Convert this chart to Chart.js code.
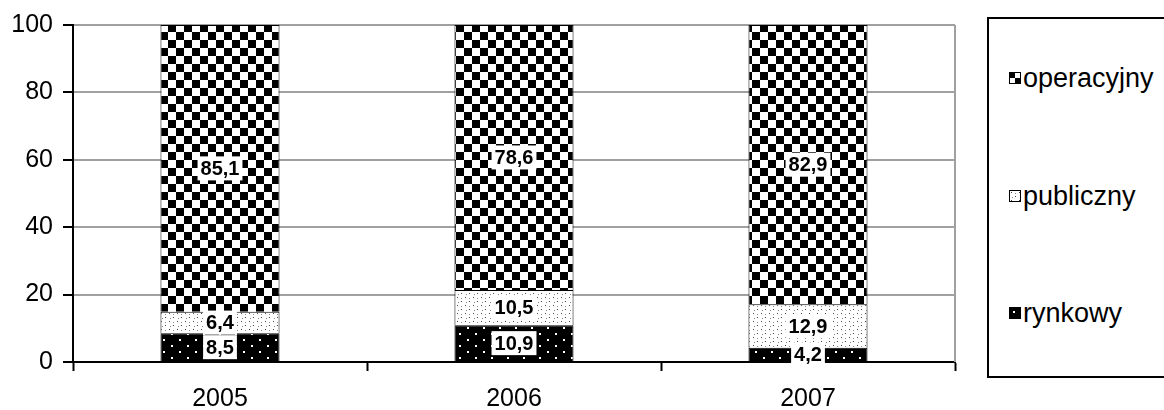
<!DOCTYPE html>
<html>
<head>
<meta charset="utf-8">
<script src="https://cdn.jsdelivr.net/npm/chart.js@4/dist/chart.umd.min.js"></script>
<style>
    body { margin: 0; background: #fff; width: 1164px; height: 410px; overflow: hidden; font-family: "Liberation Sans", Arial, sans-serif; }
    #chartBox { position: absolute; left: 0; top: 0; width: 975px; height: 410px; }
    #legend { position: absolute; left: 987px; top: 17px; width: 190px; height: 361px; border: 2px solid #000; box-sizing: border-box; }
    .item { position: absolute; left: 20px; height: 30px; font-size: 27px; color: #000; display: flex; align-items: center; }
    .item canvas { border: 1px solid #000; margin-right: 2px; }
</style>
</head>
<body>
<div id="chartBox"><canvas id="mainChart"></canvas></div>
<div id="legend"></div>
<script>
const years = ["2005", "2006", "2007"];
const rynkowy = [8.5, 10.9, 4.2];
const publiczny = [6.4, 10.5, 12.9];
const operacyjny = [85.1, 78.6, 82.9];
const yTicks = [0, 20, 40, 60, 80, 100];

function makeTile(kind) {
    const c = document.createElement("canvas");
    const x = c.getContext("2d");
    if (kind === "checker") {
        c.width = 16; c.height = 16;
        x.fillStyle = "#fff"; x.fillRect(0, 0, 16, 16);
        x.fillStyle = "#000";
        x.fillRect(0, 0, 8, 8);
        x.fillRect(8, 8, 8, 8);
    } else if (kind === "light") {
        c.width = 8; c.height = 8;
        x.fillStyle = "#fff"; x.fillRect(0, 0, 8, 8);
        x.fillStyle = "#444";
        x.fillRect(1, 1, 1, 1);
        x.fillRect(5, 5, 1, 1);
        x.fillStyle = "#888";
        x.fillRect(5, 2, 1, 1);
        x.fillRect(2, 6, 1, 1);
    } else {
        c.width = 16; c.height = 12;
        x.fillStyle = "#000"; x.fillRect(0, 0, 16, 12);
        x.fillStyle = "#fff";
        x.fillRect(3, 3, 2, 2);
        x.fillRect(11, 9, 2, 2);
    }
    return c;
}

const ctx = document.getElementById("mainChart").getContext("2d");
const tiles = { checker: makeTile("checker"), light: makeTile("light"), dark: makeTile("dark") };
const pat = k => ctx.createPattern(tiles[k], "repeat");

// gray right edge of the plot area
const plotEdge = {
    id: "plotEdge",
    beforeDatasetsDraw(chart) {
        const a = chart.chartArea, c = chart.ctx;
        c.save();
        c.strokeStyle = "#a0a0a0";
        c.lineWidth = 2;
        c.beginPath();
        c.moveTo(a.right, a.top);
        c.lineTo(a.right, a.bottom);
        c.stroke();
        c.restore();
    }
};

const valueLabels = {
    id: "valueLabels",
    afterDatasetsDraw(chart) {
        const c = chart.ctx;
        c.save();
        c.font = "bold 20px 'Liberation Sans', Arial, sans-serif";
        c.textAlign = "center";
        c.textBaseline = "middle";
        chart.data.datasets.forEach((ds, i) => {
            chart.getDatasetMeta(i).data.forEach((bar, j) => {
                const txt = String(ds.data[j]).replace(".", ",");
                const w = c.measureText(txt).width + 6;
                const cy = (bar.y + bar.base) / 2;
                c.fillStyle = "#fff";
                c.fillRect(bar.x - w / 2, cy - 12, w, 24);
                c.fillStyle = "#000";
                c.fillText(txt, bar.x, cy + 1);
            });
        });
        c.restore();
    }
};

new Chart(ctx, {
    type: "bar",
    data: {
        labels: years,
        datasets: [
            { label: "rynkowy", data: rynkowy, backgroundColor: pat("dark"), borderColor: "#000", borderWidth: 1, categoryPercentage: 1, barPercentage: 0.405 },
            { label: "publiczny", data: publiczny, backgroundColor: pat("light"), borderColor: "#000", borderWidth: 1, categoryPercentage: 1, barPercentage: 0.405 },
            { label: "operacyjny", data: operacyjny, backgroundColor: pat("checker"), borderColor: "#000", borderWidth: 1, categoryPercentage: 1, barPercentage: 0.405 }
        ]
    },
    options: {
        responsive: true,
        maintainAspectRatio: false,
        animation: false,
        layout: { padding: { top: 25, right: 20, bottom: 0, left: 0 } },
        plugins: { legend: { display: false }, tooltip: { enabled: false } },
        scales: {
            x: {
                stacked: true,
                afterFit: s => { s.height = 48; },
                grid: { drawOnChartArea: false, offset: true, tickLength: 9, tickColor: "#000", tickWidth: 2 },
                border: { color: "#000", width: 2 },
                ticks: { color: "#000", font: { size: 25, family: "'Liberation Sans', Arial" }, padding: 13 }
            },
            y: {
                stacked: true,
                min: 0,
                max: 100,
                afterBuildTicks: s => { s.ticks = yTicks.map(v => ({ value: v })); },
                afterFit: s => { s.width = 73; },
                grid: { color: "#a0a0a0", lineWidth: 2, tickLength: 10, tickColor: "#000", tickWidth: 2 },
                border: { color: "#000", width: 2 },
                ticks: { color: "#000", font: { size: 25, family: "'Liberation Sans', Arial" }, padding: 10 }
            }
        }
    },
    plugins: [plotEdge, valueLabels]
});

// legend in reverse order, as in the original
const legend = document.getElementById("legend");
[["operacyjny", "checker", 44], ["publiczny", "light", 162], ["rynkowy", "dark", 279]].forEach(([name, kind, top]) => {
    const row = document.createElement("div");
    row.className = "item";
    row.style.top = top + "px";
    const sw = document.createElement("canvas");
    sw.width = 10; sw.height = 10;
    const sc = sw.getContext("2d");
    sc.fillStyle = sc.createPattern(tiles[kind], "repeat");
    if (kind === "checker") { sc.setTransform(0.625, 0, 0, 0.625, 0, 0); sc.fillRect(0, 0, 16, 16); }
    else sc.fillRect(0, 0, 10, 10);
    row.appendChild(sw);
    row.appendChild(document.createTextNode(name));
    legend.appendChild(row);
});
</script>
</body>
</html>
